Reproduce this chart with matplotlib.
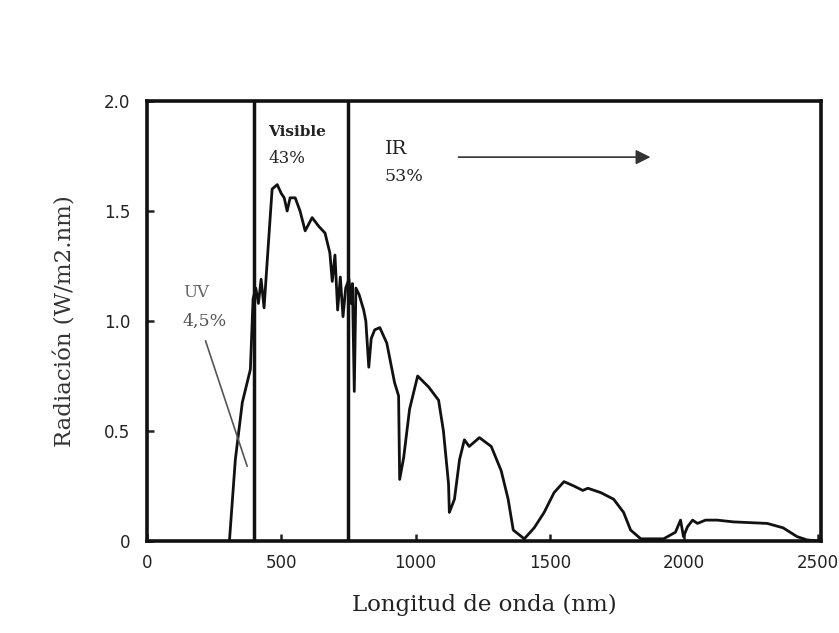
import numpy as np
import matplotlib
matplotlib.use('Agg')
import matplotlib.pyplot as plt

# espectro solar (nm, W/m2.nm)
wavelength = [307, 329, 355, 373, 385, 395, 405, 415, 425, 436, 452, 466, 485,
              500, 511, 522, 533, 552, 570, 589, 615, 640, 663, 681, 690, 700,
              710, 720, 730, 740, 752, 760, 765, 772, 778, 790, 807, 815, 826,
              835, 848, 867, 893, 922, 937, 941, 956, 978, 1008, 1049, 1086,
              1104, 1123, 1126, 1145, 1164, 1182, 1200, 1238, 1282, 1319, 1345,
              1364, 1405, 1442, 1479, 1516, 1553, 1590, 1623, 1642, 1690, 1738,
              1775, 1801, 1839, 1924, 1968, 1987, 1998, 2013, 2032, 2050, 2080,
              2124, 2184, 2310, 2369, 2421, 2458, 2500]
radiation = [0.0, 0.37, 0.63, 0.72, 0.78, 1.10, 1.15, 1.08, 1.19, 1.06, 1.35,
             1.60, 1.62, 1.58, 1.56, 1.50, 1.56, 1.56, 1.50, 1.41, 1.47, 1.43,
             1.40, 1.31, 1.18, 1.30, 1.05, 1.20, 1.02, 1.15, 1.19, 1.08, 1.17,
             0.68, 1.15, 1.12, 1.05, 1.00, 0.79, 0.92, 0.96, 0.97, 0.90, 0.72,
             0.66, 0.28, 0.38, 0.60, 0.75, 0.70, 0.64, 0.50, 0.26, 0.13, 0.19,
             0.37, 0.46, 0.43, 0.47, 0.43, 0.32, 0.19, 0.05, 0.01, 0.06, 0.13,
             0.22, 0.27, 0.25, 0.23, 0.24, 0.22, 0.19, 0.13, 0.05, 0.01, 0.01,
             0.04, 0.095, 0.02, 0.065, 0.095, 0.08, 0.095, 0.095, 0.087, 0.08,
             0.06, 0.02, 0.005, 0.0]

# limites de bandas UV / Visible / IR
band_limits = [400, 750]

xticks = [0, 500, 1000, 1500, 2000, 2500]
xticklabels = ['0', '500', '1000', '1500', '2000', '2500']
yticks = [0, 0.5, 1.0, 1.5, 2.0]
yticklabels = ['0', '0.5', '1.0', '1.5', '2.0']

serif = 'DejaVu Serif'

fig = plt.figure(figsize=(8.39, 6.33), dpi=100)
ax = fig.add_axes([0.1752, 0.1453, 0.8033, 0.6951])

ax.plot(wavelength, radiation, color='#111111', linewidth=2.0)
for b in band_limits:
    ax.axvline(b, color='#111111', linewidth=2.5)

ax.set_xlim(10, 2510)
ax.set_ylim(0, 2.0)
ax.set_xticks(xticks)
ax.set_xticklabels(xticklabels)
ax.set_yticks(yticks)
ax.set_yticklabels(yticklabels)
ax.tick_params(direction='in', length=5, width=1.8, labelsize=12,
               colors='#222222')
ax.tick_params(axis='x', pad=9)
ax.tick_params(axis='y', pad=12)
for sp in ax.spines.values():
    sp.set_linewidth(2.6)
    sp.set_color('#111111')

ax.set_xlabel('Longitud de onda (nm)', family=serif, fontsize=16.5,
              color='#222222', labelpad=16)
ax.set_ylabel('Radiación (W/m2.nm)', family=serif, fontsize=16.5,
              color='#333333', labelpad=20)

# etiquetas de las bandas
ax.text(451, 1.86, 'Visible', family=serif, fontsize=11, fontweight='bold',
        va='center', ha='left', color='#222222')
ax.text(451, 1.74, '43%', family=serif, fontsize=12, va='center', ha='left',
        color='#222222')
ax.text(885, 1.78, 'IR', family=serif, fontsize=14, va='center', ha='left',
        color='#222222')
ax.text(885, 1.655, '53%', family=serif, fontsize=12.5, va='center', ha='left',
        color='#222222')
ax.annotate('', xy=(1875, 1.745), xytext=(1160, 1.745),
            arrowprops=dict(arrowstyle='-|>', color='#333333', lw=1.2,
                            mutation_scale=22, shrinkA=0, shrinkB=0))
ax.text(136, 1.13, 'UV', family=serif, fontsize=12, va='center', ha='left',
        color='#666666')
ax.text(132, 1.0, '4,5%', family=serif, fontsize=12.5, va='center', ha='left',
        color='#555555')
ax.annotate('', xy=(373, 0.34), xytext=(218, 0.91),
            arrowprops=dict(arrowstyle='-', color='#555555', lw=1.2,
                            shrinkA=0, shrinkB=0))

plt.savefig('out.png', dpi=100)
